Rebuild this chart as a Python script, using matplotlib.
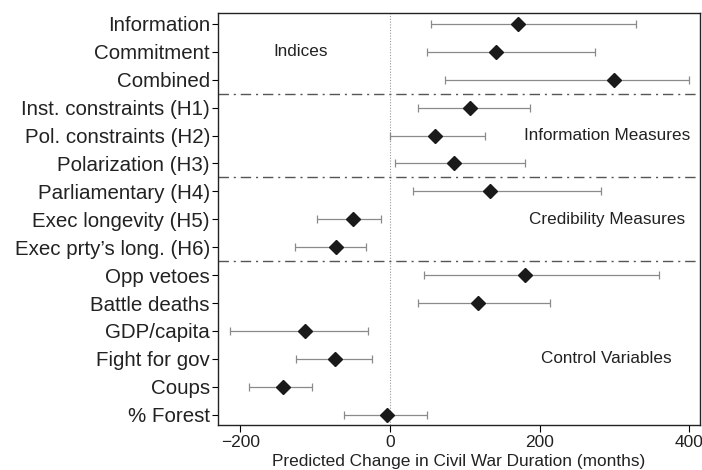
import matplotlib
matplotlib.use("Agg")
import matplotlib.pyplot as plt

plt.rcParams['font.family'] = ['Liberation Sans', 'DejaVu Sans']

labels = ["Information", "Commitment", "Combined",
          "Inst. constraints (H1)", "Pol. constraints (H2)", "Polarization (H3)",
          "Parliamentary (H4)", "Exec longevity (H5)", "Exec prty\u2019s long. (H6)",
          "Opp vetoes", "Battle deaths", "GDP/capita", "Fight for gov", "Coups", "% Forest"]
point = [171, 142, 299, 107, 60, 85, 134, -49, -72, 180, 118, -113, -74, -143, -4]
lower = [55, 49, 73, 37, 0, 7, 31, -97, -127, 46, 37, -214, -125, -188, -61]
upper = [328, 274, 400, 187, 127, 180, 282, -12, -32, 360, 214, -30, -24, -104, 49]

group_names = ["Indices", "Information Measures", "Credibility Measures", "Control Variables"]
group_rows = [2, 5, 8, 13]
group_x = [-120, 290, 290, 289]
separators = [3.5, 6.5, 9.5]

xticks = [-200, 0, 200, 400]
xtick_labels = ["\u2212200", "0", "200", "400"]

fig = plt.figure(figsize=(7.02, 4.70), dpi=100)
ax = fig.add_axes([0.311, 0.0957, 0.686, 0.8773])

ys = list(range(1, len(labels) + 1))
xerr = [[p - l for p, l in zip(point, lower)], [u - p for p, u in zip(point, upper)]]
ax.errorbar(point, ys, xerr=xerr, fmt='none', ecolor='#8a8a8a', elinewidth=0.9,
            capsize=3, capthick=0.9, zorder=2)
ax.plot(point, ys, linestyle='none', marker='D', markersize=7.5, color='#1a1a1a', zorder=3)

ax.axvline(0, color='#9a9a9a', linestyle=(0, (1, 1.5)), linewidth=0.8, zorder=1)
for s in separators:
    ax.axhline(s, color='#555555', linewidth=1.0, linestyle=(0, (7.5, 3.5, 1.5, 3.5)), zorder=1)

for name, r, gx in zip(group_names, group_rows, group_x):
    ax.text(gx, r, name, ha='center', va='center', fontsize=12.3, color='#222222')

ax.set_xlim(-229.4, 414)
ax.set_ylim(15.37, 0.6)
ax.set_yticks(ys)
ax.set_yticklabels(labels, fontsize=14.8, color='#222222')
ax.set_xticks(xticks)
ax.set_xticklabels(xtick_labels, fontsize=12.5, color='#222222')
ax.tick_params(axis='y', length=4, width=0.8, pad=2)
ax.tick_params(axis='x', length=5, width=0.8, pad=2)
ax.set_xlabel("Predicted Change in Civil War Duration (months)", fontsize=12.4, color='#222222', labelpad=3)
for sp in ax.spines.values():
    sp.set_linewidth(1.0)
    sp.set_color('#222222')

fig.savefig("out.png", dpi=100)
